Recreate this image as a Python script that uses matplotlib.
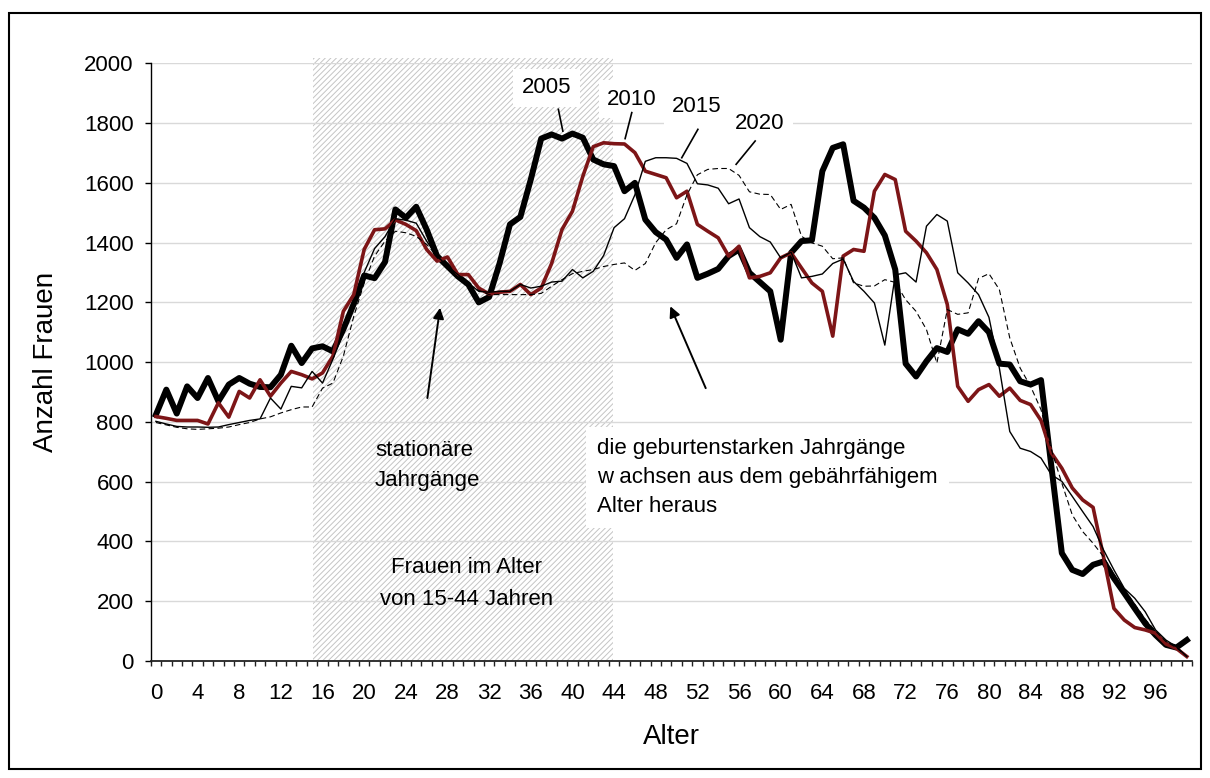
import matplotlib
matplotlib.use("Agg")
import matplotlib.pyplot as plt
from matplotlib.patches import Rectangle
import numpy as np

plt.rcParams['font.family'] = ['Liberation Sans', 'DejaVu Sans']
plt.rcParams['hatch.linewidth'] = 0.7

ages = list(range(100))
tick_labels = [str(a) for a in range(0, 100, 4)]

w2005 = [824, 908, 828, 919, 880, 947, 869, 925, 947, 928,
         917, 916, 958, 1055, 997, 1046, 1053, 1036, 1110, 1195,
         1290, 1281, 1335, 1511, 1483, 1520, 1444, 1355, 1321, 1287,
         1260, 1200, 1218, 1330, 1461, 1486, 1611, 1748, 1762, 1748,
         1765, 1751, 1678, 1662, 1656, 1572, 1600, 1477, 1435, 1410,
         1349, 1394, 1282, 1296, 1312, 1355, 1377, 1299, 1268, 1237,
         1075, 1366, 1405, 1408, 1639, 1717, 1729, 1540, 1517, 1483,
         1424, 1310, 995, 952, 1003, 1047, 1034, 1110, 1095, 1137,
         1100, 995, 992, 936, 925, 940, 650, 361, 305, 291,
         322, 333, 277, 227, 176, 126, 87, 54, 45, 70]

w2010 = [818, 812, 805, 805, 805, 793, 864, 816, 902, 880,
         941, 886, 930, 969, 958, 944, 964, 1020, 1170, 1226,
         1377, 1443, 1446, 1476, 1461, 1440, 1377, 1338, 1352, 1293,
         1293, 1248, 1228, 1234, 1237, 1260, 1226, 1248, 1330, 1444,
         1505, 1622, 1721, 1734, 1731, 1730, 1701, 1639, 1628, 1617,
         1550, 1572, 1461, 1438, 1416, 1355, 1388, 1282, 1287, 1299,
         1349, 1366, 1315, 1265, 1237, 1087, 1355, 1377, 1371, 1572,
         1628, 1611, 1438, 1405, 1366, 1310, 1193, 919, 869, 908,
         925, 886, 913, 872, 858, 805, 696, 645, 579, 539,
         514, 349, 176, 137, 112, 104, 93, 57, 42, 15]

w2015 = [802, 793, 785, 783, 783, 782, 783, 791, 798, 805,
         810, 880, 843, 919, 914, 969, 930, 1010, 1098, 1187,
         1300, 1380, 1420, 1480, 1475, 1465, 1405, 1355, 1321, 1293,
         1265, 1237, 1234, 1237, 1237, 1260, 1248, 1254, 1268, 1271,
         1310, 1282, 1304, 1357, 1450, 1480, 1560, 1672, 1684, 1684,
         1682, 1665, 1597, 1593, 1582, 1530, 1546, 1450, 1420, 1402,
         1349, 1368, 1282, 1287, 1295, 1330, 1345, 1270, 1237, 1198,
         1057, 1292, 1299, 1268, 1455, 1494, 1472, 1299, 1265, 1226,
         1150, 980, 768, 712, 701, 679, 623, 601, 551, 500,
         450, 372, 305, 243, 210, 165, 104, 70, 48, 15]

w2020 = [798, 790, 782, 777, 775, 777, 779, 783, 791, 798,
         810, 817, 830, 841, 850, 850, 913, 930, 1020, 1153,
         1265, 1355, 1405, 1438, 1433, 1421, 1394, 1355, 1320, 1285,
         1260, 1240, 1226, 1226, 1226, 1226, 1226, 1230, 1254, 1276,
         1296, 1304, 1310, 1320, 1327, 1332, 1307, 1330, 1400, 1443,
         1463, 1560, 1627, 1645, 1648, 1648, 1625, 1570, 1562, 1561,
         1511, 1528, 1421, 1399, 1388, 1346, 1349, 1265, 1254, 1255,
         1276, 1267, 1209, 1170, 1109, 997, 1176, 1160, 1165, 1280,
         1296, 1243, 1081, 980, 919, 841, 707, 595, 489, 433,
         394, 349, 290, 240, 190, 140, 100, 65, 45, 15]

W, H = 1210, 778
fig = plt.figure(figsize=(W / 100, H / 100), dpi=100)
ax = fig.add_axes([150.7 / W, 1 - 661 / H, (1192 - 150.7) / W, (661 - 63.3) / H])

ax.set_xlim(-0.5, 99.5)
ax.set_ylim(0, 2000)

# shaded region for the fertile-age women (15-44)
rect = Rectangle((15.1, 0), 43.9 - 15.1, 2018, facecolor='white',
                 edgecolor='#c4c4c4', hatch='//////', linewidth=0,
                 clip_on=False, zorder=0.2)
ax.add_patch(rect)

ax.set_axisbelow(True)
ax.yaxis.grid(True, color='#d9d9d9', linewidth=1.0)

red = '#7d1517'
ax.plot(ages, w2005, color='black', lw=4.3, solid_joinstyle='round', zorder=3)
ax.plot(ages, w2010, color=red, lw=2.6, solid_joinstyle='round', zorder=3.1)
ax.plot(ages, w2015, color='black', lw=1.0, zorder=3.2)
ax.plot(ages, w2020, color='black', lw=0.8, dashes=(5, 3), zorder=3.3)

# axes styling
for s in ['top', 'right']:
    ax.spines[s].set_visible(False)
ax.spines['left'].set_linewidth(1.0)
ax.spines['bottom'].set_linewidth(1.3)
ax.spines['bottom'].set_color('#222222')

ax.set_yticks(range(0, 2001, 200))
ax.tick_params(axis='y', direction='out', length=4.3, width=1.0, pad=8,
               labelsize=16)
ax.set_xticks(range(0, 100, 4))
ax.set_xticklabels(tick_labels)
ax.set_xticks(np.arange(-0.5, 100, 1), minor=True)
ax.tick_params(axis='x', which='major', length=0, pad=16, labelsize=16)
ax.tick_params(axis='x', which='minor', direction='out', length=3.8,
               width=1.0, color='#222222')

ax.set_xlabel('Alter', fontsize=20)
ax.set_ylabel('Anzahl Frauen', fontsize=20)
ax.xaxis.set_label_coords(0.5, -0.106)
ax.yaxis.set_label_coords(-0.088, 0.5)

# year labels with leader lines
lab_kw = dict(fontsize=16, ha='center', va='center', zorder=5,
              bbox=dict(facecolor='white', edgecolor='none', pad=6))
ax.text(37.5, 1918, '2005', **lab_kw)
ax.text(45.7, 1880, '2010', **lab_kw)
ax.text(51.95, 1855, '2015', **lab_kw)
ax.text(58.0, 1800, '2020', **lab_kw)
ax.plot([38.65, 39.08], [1846, 1773], color='black', lw=1.2, zorder=5)
ax.plot([45.7, 45.06], [1835, 1748], color='black', lw=1.2, zorder=5)
ax.plot([52.05, 50.5], [1779, 1684], color='black', lw=1.2, zorder=5)
ax.plot([57.55, 55.72], [1740, 1662], color='black', lw=1.2, zorder=5)

# arrows
arr = dict(arrowstyle='-|>', color='black', lw=1.4, mutation_scale=16,
           shrinkA=0, shrinkB=0)
ax.annotate('', xy=(27.29, 1182), xytext=(26.07, 880), arrowprops=arr, zorder=5)
ax.annotate('', xy=(49.4, 1187), xytext=(52.8, 913), arrowprops=arr, zorder=5)

# explanatory texts
ax.text(21.05, 655, 'stationäre\nJahrgänge', fontsize=16, ha='left',
        va='center', linespacing=1.55, zorder=5)
ax.text(29.8, 259, 'Frauen im Alter\nvon 15-44 Jahren', fontsize=16,
        ha='center', va='center', linespacing=1.65, zorder=5)
ax.text(42.34, 615, 'die geburtenstarken Jahrgänge\nw achsen aus dem gebährfähigem\nAlter heraus',
        fontsize=16, ha='left', va='center', linespacing=1.5, zorder=5,
        bbox=dict(facecolor='white', edgecolor='none', pad=8))

# outer frame
fig.add_artist(Rectangle((9 / W, 1 - 769 / H), (1201 - 9) / W, (769 - 12.7) / H,
                         transform=fig.transFigure, fill=False,
                         edgecolor='black', linewidth=1.5))

fig.savefig('out.png', dpi=100)
